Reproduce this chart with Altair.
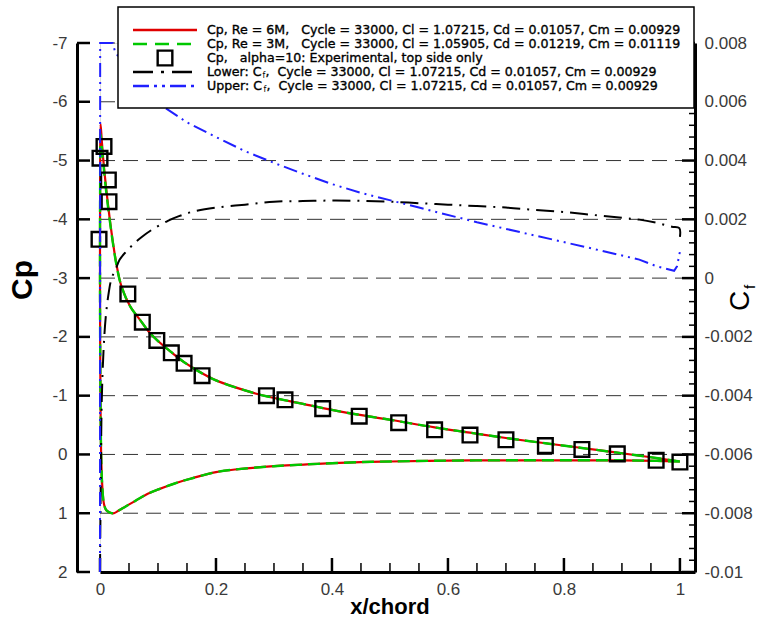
import altair as alt
import numpy as np
import pandas as pd

# ---------------- data ----------------
# Cp, Re = 6M : lower surface (trailing edge -> leading edge), then upper surface
x_lower_6m = [1.0, 0.96, 0.9, 0.8, 0.7, 0.6, 0.5, 0.45, 0.375, 0.3, 0.239, 0.2, 0.157, 0.13,
              0.102, 0.08, 0.061, 0.045, 0.033, 0.024, 0.017, 0.011, 0.007, 0.004, 0.002, 0.0005, 0.0]
cp_lower_6m = [0.12, 0.11, 0.10, 0.10, 0.10, 0.105, 0.12, 0.13, 0.16, 0.20, 0.25, 0.30, 0.41, 0.49,
               0.59, 0.68, 0.79, 0.88, 0.95, 1.0, 0.99, 0.95, 0.85, 0.55, 0.0, -1.5, -3.0]
x_upper_6m = [0.0003, 0.001, 0.003, 0.0057, 0.0115, 0.02, 0.029, 0.037, 0.052, 0.069, 0.085, 0.1,
              0.123, 0.145, 0.176, 0.2, 0.25, 0.287, 0.35, 0.42, 0.5, 0.577, 0.638, 0.7, 0.768,
              0.831, 0.892, 0.959, 1.0]
cp_upper_6m = [-4.8, -5.62, -5.35, -5.01, -4.45, -3.77, -3.2, -2.86, -2.52, -2.29, -2.08, -1.93,
               -1.74, -1.57, -1.38, -1.26, -1.09, -0.99, -0.86, -0.72, -0.59, -0.46, -0.37, -0.28,
               -0.19, -0.11, -0.03, 0.06, 0.12]

# Cp, Re = 3M
x_lower_3m = [1.0, 0.96, 0.9, 0.8, 0.7, 0.6, 0.5, 0.45, 0.375, 0.3, 0.239, 0.2, 0.157, 0.13,
              0.102, 0.08, 0.061, 0.045, 0.033, 0.024, 0.017, 0.011, 0.007, 0.004, 0.002, 0.0005, 0.0]
cp_lower_3m = [0.12, 0.11, 0.10, 0.10, 0.10, 0.105, 0.12, 0.13, 0.16, 0.20, 0.25, 0.30, 0.41, 0.49,
               0.59, 0.68, 0.79, 0.88, 0.95, 1.0, 0.99, 0.95, 0.85, 0.55, 0.0, -1.5, -3.0]
x_upper_3m = [0.0003, 0.001, 0.003, 0.0057, 0.0115, 0.02, 0.029, 0.037, 0.052, 0.069, 0.085, 0.1,
              0.123, 0.145, 0.176, 0.2, 0.25, 0.287, 0.35, 0.42, 0.5, 0.577, 0.638, 0.7, 0.768,
              0.831, 0.892, 0.959, 1.0]
cp_upper_3m = [-4.7, -5.45, -5.25, -4.95, -4.4, -3.75, -3.19, -2.86, -2.52, -2.29, -2.08, -1.93,
               -1.74, -1.57, -1.38, -1.26, -1.09, -0.99, -0.86, -0.72, -0.59, -0.46, -0.37, -0.28,
               -0.19, -0.11, -0.03, 0.06, 0.12]

# Experimental Cp, alpha = 10, top side only
x_exp = [-0.0017, 0.0, 0.0069, 0.0144, 0.0155, 0.048, 0.073, 0.098, 0.123, 0.145, 0.176, 0.287,
         0.319, 0.384, 0.447, 0.515, 0.577, 0.638, 0.700, 0.768, 0.831, 0.892, 0.959, 1.0]
cp_exp = [-3.66, -5.04, -5.24, -4.67, -4.30, -2.73, -2.25, -1.94, -1.73, -1.55, -1.34, -1.0,
          -0.93, -0.78, -0.65, -0.54, -0.42, -0.33, -0.25, -0.15, -0.085, -0.01, 0.10, 0.13]

# Skin friction, lower surface
x_cf_lower = [0.0, 0.0015, 0.003, 0.006, 0.01, 0.015, 0.02, 0.027, 0.034, 0.045, 0.06, 0.072, 0.09,
              0.117, 0.135, 0.16, 0.2, 0.25, 0.3, 0.35, 0.4, 0.45, 0.5, 0.55, 0.6, 0.65, 0.7, 0.75,
              0.8, 0.85, 0.9, 0.93, 0.96, 0.986, 0.999, 1.0]
cf_lower = [-0.01, -0.0065, -0.0042, -0.0025, -0.0013, -0.0005, 0.0, 0.0003, 0.00063, 0.0009,
            0.0012, 0.0014, 0.00165, 0.00195, 0.0021, 0.00226, 0.0024, 0.0025, 0.0026, 0.00262,
            0.00264, 0.00263, 0.0026, 0.00255, 0.0025, 0.00245, 0.0024, 0.00232, 0.00225, 0.00215,
            0.00205, 0.00199, 0.00188, 0.00175, 0.0017, 0.0014]

# Skin friction, upper surface
x_cf_upper = [0.0, 0.0003, 0.022, 0.026, 0.04, 0.06, 0.08, 0.112, 0.15, 0.2, 0.25, 0.3, 0.35,
              0.4, 0.45, 0.55, 0.65, 0.75, 0.85, 0.93, 0.96, 0.99, 0.995, 1.0]
cf_upper = [-0.01, 0.008, 0.008, 0.0077, 0.0073, 0.0068, 0.0064, 0.0058, 0.0053, 0.0048, 0.00432,
            0.00392, 0.00355, 0.0032, 0.0029, 0.0024, 0.0019, 0.00145, 0.001, 0.00063, 0.0004,
            0.00025, 0.0004, 0.0009]

# axis tick values
x_major = [0, 0.2, 0.4, 0.6, 0.8, 1]
x_minor = [0.05, 0.1, 0.15, 0.25, 0.3, 0.35, 0.45, 0.5, 0.55, 0.65, 0.7, 0.75, 0.85, 0.9, 0.95]
cp_major = [-7, -6, -5, -4, -3, -2, -1, 0, 1, 2]
cp_grid = [-7, -6, -5, -4, -3, -2, -1, 0, 1]
cf_major = [-0.01, -0.008, -0.006, -0.004, -0.002, 0, 0.002, 0.004, 0.006, 0.008]
cf_minor = [v for v in np.round(np.arange(-0.01, 0.0081, 0.0004), 4).tolist()
            if min(abs(v - m) for m in cf_major) > 1e-6]

legend_rows = [
    "Cp,\u00a0Re\u00a0=\u00a06M,\u00a0\u00a0\u00a0Cycle = 33000, Cl = 1.07215, Cd = 0.01057, Cm = 0.00929",
    "Cp,\u00a0Re\u00a0=\u00a03M,\u00a0\u00a0\u00a0Cycle = 33000, Cl = 1.05905, Cd = 0.01219, Cm = 0.01119",
    "Cp,\u00a0\u00a0\u00a0alpha=10: Experimental, top side only",
]
cf_tail = "\u00a0,\u00a0\u00a0Cycle = 33000, Cl = 1.07215, Cd = 0.01057, Cm = 0.00929"

# ---------------- styling ----------------
W, H = 595, 529
FONT = "Liberation Sans"
LEG_FONT = "DejaVu Sans"
RED, GREEN, BLUE = "#e00000", "#00c800", "#2020ff"
LEG_FS = 12.6

xs = alt.Scale(domain=[0, 1.026], nice=False, zero=False)
cps = alt.Scale(domain=[-7, 2], reverse=True, nice=False, zero=False)
cfs = alt.Scale(domain=[-0.01, 0.008], nice=False, zero=False)

label_kw = dict(labelFont=FONT, labelFontSize=17, labelColor="#3a3a3a",
                labelExpr="'' + datum.value", labelOverlap=False, labelFlush=False,
                domainColor="black", domainWidth=3, ticks=False, grid=False, title=None)
x_axis = alt.Axis(values=x_major, labelPadding=9, **label_kw)
cp_axis = alt.Axis(values=cp_major, offset=23, labelPadding=10, **label_kw)
cf_axis = alt.Axis(values=cf_major, orient="right", labelPadding=9, **label_kw)

one = pd.DataFrame({"k": [0]})


def vals(values):
    return pd.DataFrame({"v": values})


def path(xa, ya):
    return pd.DataFrame({"x": xa, "y": ya, "i": range(len(xa))})


X = alt.X("x:Q", scale=xs, axis=x_axis)
YCP = alt.Y("y:Q", scale=cps, axis=cp_axis)
YCF = alt.Y("y:Q", scale=cfs, axis=cf_axis)

# ---- Cp side ----
grid = alt.Chart(vals(cp_grid)).mark_rule(color="#333", strokeWidth=1, strokeDash=[15, 8]).encode(
    y=alt.Y("v:Q", scale=cps, axis=cp_axis), x=alt.value(0), x2=alt.value(W))
cp_ticks = alt.Chart(vals(cp_major)).mark_rule(color="black", strokeWidth=2.5).encode(
    y=alt.Y("v:Q", scale=cps, axis=cp_axis), x=alt.value(-23), x2=alt.value(-10))
x_ticks = alt.Chart(vals(x_major)).mark_rule(color="black", strokeWidth=2.5).encode(
    x=alt.X("v:Q", scale=xs, axis=x_axis), y=alt.value(H), y2=alt.value(H - 14))
x_ticks_minor = alt.Chart(vals(x_minor)).mark_rule(color="black", strokeWidth=1.5).encode(
    x=alt.X("v:Q", scale=xs, axis=x_axis), y=alt.value(H), y2=alt.value(H - 9))

re6 = pd.concat([path(x_lower_6m, cp_lower_6m),
                 path(x_upper_6m, cp_upper_6m).assign(i=lambda d: d.i + 100)])
re3 = pd.concat([path(x_lower_3m, cp_lower_3m),
                 path(x_upper_3m, cp_upper_3m).assign(i=lambda d: d.i + 100)])

line6 = alt.Chart(re6).mark_line(color=RED, strokeWidth=2.2,
                                 interpolate="catmull-rom").encode(x=X, y=YCP, order="i:Q")
line3 = alt.Chart(re3).mark_line(color=GREEN, strokeWidth=2.4, strokeDash=[12, 6],
                                 interpolate="catmull-rom").encode(x=X, y=YCP, order="i:Q")
exp = alt.Chart(path(x_exp, cp_exp)).mark_point(
    shape="square", filled=False, size=215, strokeWidth=2.4, color="black", opacity=1).encode(
    x=X, y=YCP)

cp_layer = alt.layer(grid, cp_ticks, x_ticks, x_ticks_minor, line6, line3, exp)

# ---- Cf side ----
cf_ticks = alt.Chart(vals(cf_major)).mark_rule(color="black", strokeWidth=2.5).encode(
    y=alt.Y("v:Q", scale=cfs, axis=cf_axis), x=alt.value(W), x2=alt.value(W - 13))
cf_ticks_minor = alt.Chart(vals(cf_minor)).mark_rule(color="black", strokeWidth=1.5).encode(
    y=alt.Y("v:Q", scale=cfs, axis=cf_axis), x=alt.value(W), x2=alt.value(W - 6))
cf_lo = alt.Chart(path(x_cf_lower, cf_lower)).mark_line(
    color="black", strokeWidth=2, strokeDash=[18, 7, 2, 7],
    interpolate="catmull-rom").encode(x=X, y=YCF, order="i:Q")
cf_up = alt.Chart(path(x_cf_upper, cf_upper)).mark_line(
    color=BLUE, strokeWidth=2, strokeDash=[14, 5, 2, 5, 2, 5]).encode(
    x=X, y=YCF, order="i:Q")

cf_layer = alt.layer(cf_ticks, cf_ticks_minor, cf_lo, cf_up)

# ---- legend box and titles ----
row_y = [-13, 1, 15, 29, 43]
LX0, LX1, TX = 33, 97, 107
txt = dict(font=LEG_FONT, fontSize=LEG_FS, color="black", stroke="black", strokeWidth=0.35,
           align="left", baseline="middle")

deco = [
    alt.Chart(one).mark_rect(fill="white", stroke="black", strokeWidth=1.5).encode(
        x=alt.value(18), x2=alt.value(594), y=alt.value(-36), y2=alt.value(65)),
    alt.Chart(one).mark_rule(color=RED, strokeWidth=2.5).encode(
        x=alt.value(LX0), x2=alt.value(LX1), y=alt.value(row_y[0])),
    alt.Chart(one).mark_rule(color=GREEN, strokeWidth=2.5, strokeDash=[14, 8]).encode(
        x=alt.value(LX0), x2=alt.value(LX1), y=alt.value(row_y[1])),
    alt.Chart(one).mark_point(shape="square", filled=False, size=215, strokeWidth=2.4,
                              color="black", opacity=1).encode(
        x=alt.value((LX0 + LX1) / 2), y=alt.value(row_y[2])),
    alt.Chart(one).mark_rule(color="black", strokeWidth=2.5, strokeDash=[20, 8, 3, 8]).encode(
        x=alt.value(LX0), x2=alt.value(LX1), y=alt.value(row_y[3])),
    alt.Chart(one).mark_rule(color=BLUE, strokeWidth=2.5, strokeDash=[16, 5, 3, 5, 3, 5]).encode(
        x=alt.value(LX0), x2=alt.value(LX1), y=alt.value(row_y[4])),
]
for r in range(3):
    deco.append(alt.Chart(one).mark_text(text=legend_rows[r], **txt).encode(
        x=alt.value(TX), y=alt.value(row_y[r])))
# "Lower: C_f" / "Upper: C_f" with a subscript f
for r, head, em in [(3, "Lower: C", 4.366), (4, "\u00a0Upper: C", 4.45)]:
    w = em * LEG_FS
    deco.append(alt.Chart(one).mark_text(text=head, **txt).encode(
        x=alt.value(TX), y=alt.value(row_y[r])))
    deco.append(alt.Chart(one).mark_text(text="f", font=LEG_FONT, fontSize=8,
                                         color="black", align="left", baseline="middle").encode(
        x=alt.value(TX + w + 0.5), y=alt.value(row_y[r] + 4)))
    deco.append(alt.Chart(one).mark_text(text=cf_tail, **txt).encode(
        x=alt.value(TX + w + 3.5), y=alt.value(row_y[r])))

# axis titles
deco += [
    alt.Chart(one).mark_text(text="Cp", font=FONT, fontSize=30, fontWeight="bold", angle=270,
                             color="black", align="center", baseline="middle").encode(
        x=alt.value(-77), y=alt.value(237)),
    alt.Chart(one).mark_text(text="C", font=FONT, fontSize=28, angle=270,
                             color="black", align="center", baseline="middle").encode(
        x=alt.value(641), y=alt.value(258)),
    alt.Chart(one).mark_text(text="f", font=FONT, fontSize=15, angle=270,
                             color="black", align="center", baseline="middle").encode(
        x=alt.value(650), y=alt.value(244)),
    alt.Chart(one).mark_text(text="x/chord", font=FONT, fontSize=22, fontWeight="bold",
                             color="black", align="center", baseline="middle").encode(
        x=alt.value(290), y=alt.value(564)),
]
deco_layer = alt.layer(*deco)

chart = alt.layer(cp_layer, cf_layer, deco_layer).resolve_scale(y="independent").properties(
    width=W, height=H,
    autosize=alt.AutoSizeParams(type="none"),
    padding={"left": 100, "top": 43, "right": 67, "bottom": 51},
).configure_view(stroke=None).configure(background="white")

chart.save("out.html", embed_options={"renderer": "svg", "actions": False})
